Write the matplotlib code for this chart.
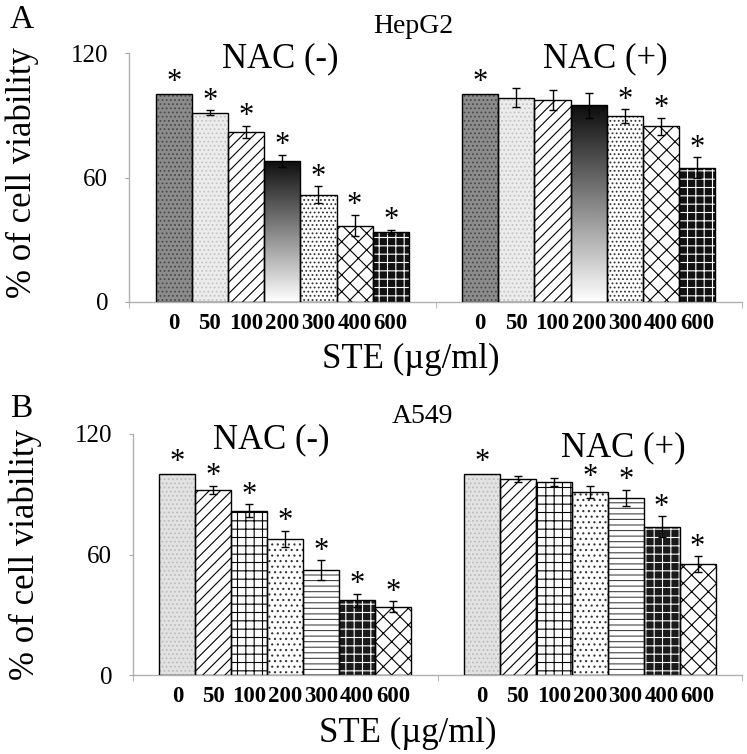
import numpy as np
import matplotlib
matplotlib.use('Agg')
import matplotlib.pyplot as plt

plt.rcParams['font.family'] = ['Liberation Serif', 'DejaVu Serif']
plt.rcParams['hatch.linewidth'] = 0.8

doses = ['0', '50', '100', '200', '300', '400', '600']
groups = ['NAC (-)', 'NAC (+)']
yticks = [0, 60, 120]

hepg2_nac_neg = [100, 91.2, 81.9, 68.0, 51.7, 36.8, 33.9]
hepg2_nac_neg_err = [0.0, 1.3, 3.0, 2.9, 4.2, 5.2, 1.0]
hepg2_nac_pos = [100, 98.5, 97.3, 94.9, 89.5, 84.7, 64.7]
hepg2_nac_pos_err = [0.0, 4.7, 4.8, 6.0, 3.4, 4.1, 5.1]
hepg2_sig_neg = [1, 1, 1, 1, 1, 1, 1]
hepg2_sig_pos = [1, 0, 0, 0, 1, 1, 1]

a549_nac_neg = [100, 92.1, 81.9, 67.8, 52.2, 37.1, 33.9]
a549_nac_neg_err = [0.0, 2.1, 3.2, 4.1, 4.9, 3.3, 2.7]
a549_nac_pos = [100, 97.7, 95.9, 90.9, 88.1, 73.9, 55.3]
a549_nac_pos_err = [0.0, 1.5, 2.0, 3.0, 4.1, 5.1, 3.9]
a549_sig_neg = [1, 1, 1, 1, 1, 1, 1]
a549_sig_pos = [1, 0, 0, 1, 1, 1, 1]

styles_a = [
    dict(fc='#8c8c8c', hc='#4a4a4a', hatch='....'),
    dict(fc='#ececec', hc='#c4c4c4', hatch='....'),
    dict(fc='white', hc='black', hatch='///'),
    dict(gradient=True),
    dict(fc='white', hc='#333333', hatch='....'),
    dict(fc='white', hc='black', hatch='xx'),
    dict(fc='#111111', hc='white', hatch='++'),
]
styles_b = [
    dict(fc='#e2e2e2', hc='#bdbdbd', hatch='....'),
    dict(fc='white', hc='black', hatch='///'),
    dict(fc='white', hc='black', hatch='++'),
    dict(fc='white', hc='#333333', hatch='...'),
    dict(fc='white', hc='#444444', hatch='---'),
    dict(fc='#1a1a1a', hc='white', hatch='++'),
    dict(fc='white', hc='black', hatch='xx'),
]

W, H = 747, 754
fig = plt.figure(figsize=(W / 100, H / 100), dpi=100)


def fx(px):
    return px / W


def fy(py):
    return 1 - py / H


grad = np.linspace(0.05, 1, 256).reshape(-1, 1)


def draw_panel(ax, data, styles):
    width = 0.118
    offsets = (np.arange(len(doses)) - 3) * width
    centers = []
    for g, (vals, errs, sig) in enumerate(data):
        xs = g + offsets
        centers.extend(xs)
        for i in range(len(doses)):
            st = styles[i]
            if st.get('gradient'):
                outline = ax.bar(xs[i], vals[i], width, facecolor='none',
                                 edgecolor='black', lw=1.0, zorder=3)[0]
                im = ax.imshow(grad, extent=[xs[i] - width / 2, xs[i] + width / 2, 0, vals[i]],
                               cmap='gray', aspect='auto', zorder=2, vmin=0, vmax=1,
                               interpolation='bilinear')
                im.set_clip_path(outline)
            else:
                ax.bar(xs[i], vals[i], width, facecolor=st['fc'], edgecolor=st['hc'],
                       hatch=st['hatch'], lw=0, zorder=2)
                ax.bar(xs[i], vals[i], width, facecolor='none', edgecolor='black',
                       lw=1.0, zorder=3)
            if errs[i] > 0:
                ax.errorbar(xs[i], vals[i], yerr=errs[i], fmt='none', ecolor='black',
                            elinewidth=1, capsize=3, capthick=1, zorder=4)
            if sig[i]:
                dy = 3 if errs[i] == 0 else 1
                ax.annotate('*', (xs[i], vals[i] + errs[i]), xytext=(0, dy),
                            textcoords='offset points', ha='center', va='baseline',
                            fontsize=22, zorder=5)
    ax.set_xlim(-0.5, 1.5)
    ax.set_ylim(0, 120)
    ax.set_yticks(yticks)
    ax.set_yticklabels([str(v) for v in yticks], fontsize=18)
    ax.set_xticks(centers)
    ax.set_xticklabels(doses * 2, fontsize=16.5, fontweight='bold')
    ax.tick_params(axis='x', length=0, pad=8)
    ax.set_xticks([-0.5, 0.5, 1.5], minor=True)
    ax.tick_params(axis='x', which='minor', length=4, color='#aaaaaa', direction='out')
    ax.tick_params(axis='y', length=3, color='#aaaaaa', pad=12)
    for s in ['top', 'right']:
        ax.spines[s].set_visible(False)
    for s in ['left', 'bottom']:
        ax.spines[s].set_color('#b0b0b0')
        ax.spines[s].set_linewidth(1.0)


axA = fig.add_axes([fx(129), fy(302), fx(742) - fx(129), fy(53) - fy(302)])
draw_panel(axA, [(hepg2_nac_neg, hepg2_nac_neg_err, hepg2_sig_neg),
                 (hepg2_nac_pos, hepg2_nac_pos_err, hepg2_sig_pos)], styles_a)

axB = fig.add_axes([fx(133), fy(675), fx(742) - fx(133), fy(434) - fy(675)])
draw_panel(axB, [(a549_nac_neg, a549_nac_neg_err, a549_sig_neg),
                 (a549_nac_pos, a549_nac_pos_err, a549_sig_pos)], styles_b)

# panel labels and titles
fig.text(fx(10), fy(28), 'A', fontsize=24, ha='left', va='baseline')
fig.text(fx(413), fy(33), 'HepG2', fontsize=20, ha='center', va='baseline')
fig.text(fx(280), fy(67), groups[0], fontsize=25, ha='center', va='baseline')
fig.text(fx(605), fy(67), groups[1], fontsize=25, ha='center', va='baseline')
fig.text(fx(411), fy(368), 'STE (µg/ml)', fontsize=25, ha='center', va='baseline')
fig.text(fx(22), fy(172), '% of cell viability', fontsize=25, rotation=90,
         ha='center', va='center')

fig.text(fx(10), fy(417), 'B', fontsize=24, ha='left', va='baseline')
fig.text(fx(422), fy(423), 'A549', fontsize=20, ha='center', va='baseline')
fig.text(fx(271), fy(448), groups[0], fontsize=25, ha='center', va='baseline')
fig.text(fx(623), fy(456), groups[1], fontsize=25, ha='center', va='baseline')
fig.text(fx(408), fy(742), 'STE (µg/ml)', fontsize=25, ha='center', va='baseline')
fig.text(fx(25), fy(555), '% of cell viability', fontsize=25, rotation=90,
         ha='center', va='center')

fig.savefig('out.png', dpi=100)
